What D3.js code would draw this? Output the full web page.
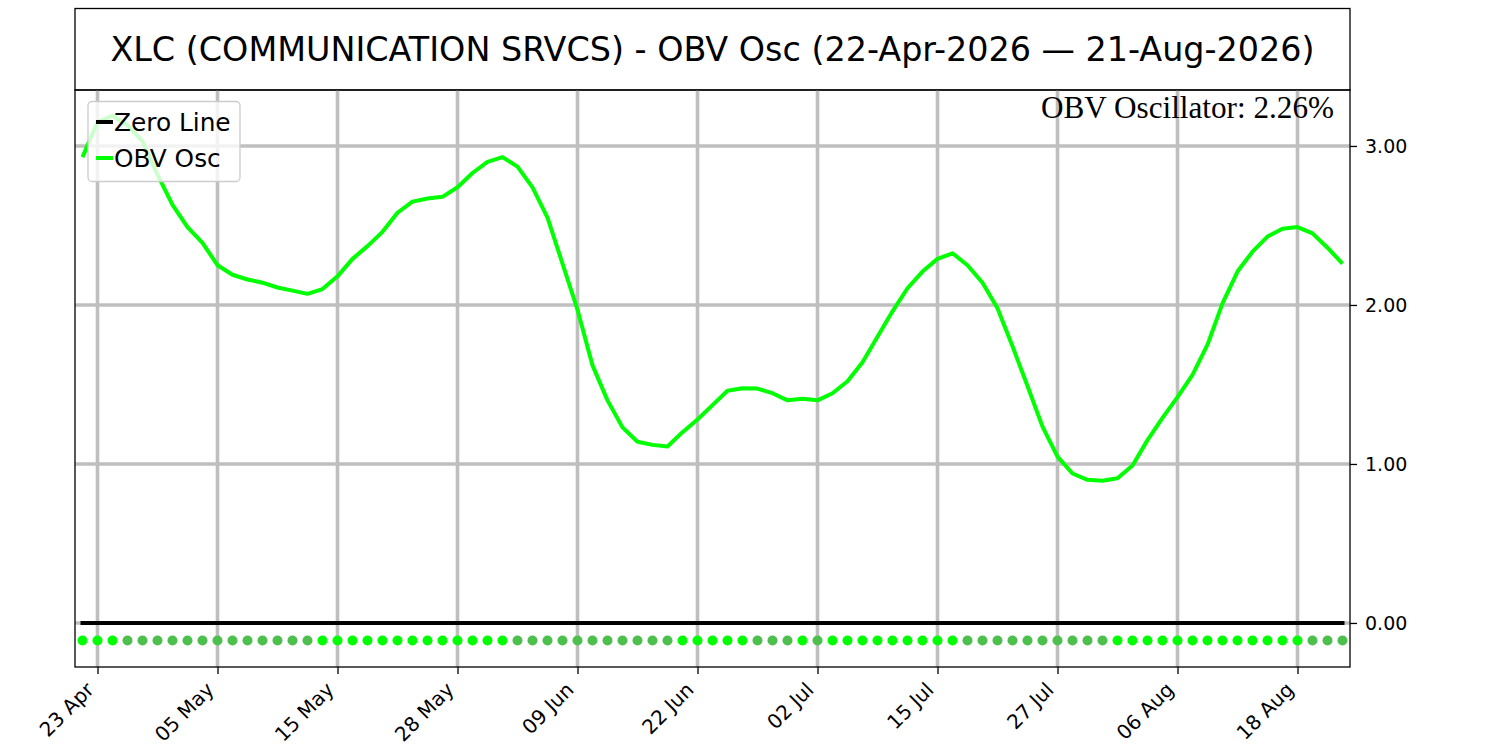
<!DOCTYPE html>
<html>
<head>
<meta charset="utf-8">
<script src="https://cdn.jsdelivr.net/npm/d3@7/dist/d3.min.js"></script>
<style>
  html, body { margin: 0; padding: 0; background: #fff; }
  svg { display: block; font-family: "DejaVu Sans", sans-serif; }
</style>
</head>
<body>
<svg id="chart" width="1500" height="750"></svg>
<script>
// ---- data ----
const titleText = "XLC (COMMUNICATION SRVCS) - OBV Osc (22-Apr-2026 \u2014 21-Aug-2026)";
const lastLabel = "OBV Oscillator: 2.26%";
const obvOsc = [
  2.93, 3.15, 3.19, 3.13, 3.03, 2.82, 2.63, 2.49, 2.39, 2.25,
  2.19, 2.16, 2.14, 2.11, 2.09, 2.07, 2.10, 2.18, 2.29, 2.37,
  2.46, 2.58, 2.65, 2.67, 2.68, 2.74, 2.83, 2.90, 2.93, 2.87,
  2.74, 2.55, 2.26, 1.97, 1.62, 1.40, 1.23, 1.14, 1.12, 1.11,
  1.20, 1.28, 1.37, 1.46, 1.476, 1.474, 1.445, 1.40, 1.41, 1.40,
  1.445, 1.52, 1.64, 1.80, 1.96, 2.105, 2.21, 2.29, 2.325, 2.25,
  2.14, 1.98, 1.74, 1.49, 1.235, 1.046, 0.94, 0.90, 0.895, 0.91,
  0.99, 1.15, 1.29, 1.42, 1.56, 1.75, 2.01, 2.21, 2.335, 2.43,
  2.48, 2.49, 2.45, 2.36, 2.26
];
const tickIndices = [1, 9, 17, 25, 33, 41, 49, 57, 65, 73, 81];
const tickLabels = ["23 Apr", "05 May", "15 May", "28 May", "09 Jun", "22 Jun", "02 Jul", "15 Jul", "27 Jul", "06 Aug", "18 Aug"];
const yTicks = [0, 1, 2, 3];
const dotLevel = -0.11;
const legendItems = ["Zero Line", "OBV Osc"];

// ---- layout ----
const svg = d3.select("#chart");
const L = 75, R = 1350, T = 90, B = 667;
const n = obvOsc.length;
const x = d3.scaleLinear().domain([-0.5, n - 0.5]).range([L, R]);
const y = d3.scaleLinear().domain([-0.277, 3.352]).range([B, T]);

const grid = "#bfbfbf";
const sans = "DejaVu Sans, sans-serif";

// title box
svg.append("rect").attr("x", L).attr("y", 8.5).attr("width", R - L).attr("height", T - 8.5)
  .attr("fill", "none").attr("stroke", "#000").attr("stroke-width", 1.3);
svg.append("text").attr("x", (L + R) / 2).attr("y", 61).attr("text-anchor", "middle")
  .attr("font-family", sans).attr("font-size", 33.4).attr("fill", "#000").text(titleText);

const plot = svg.append("g");

// grid lines
plot.selectAll(".vg").data(tickIndices).enter().append("line")
  .attr("x1", d => x(d)).attr("x2", d => x(d)).attr("y1", T).attr("y2", B)
  .attr("stroke", grid).attr("stroke-width", 3.6);
plot.selectAll(".hg").data(yTicks).enter().append("line")
  .attr("x1", L).attr("x2", R).attr("y1", d => y(d)).attr("y2", d => y(d))
  .attr("stroke", grid).attr("stroke-width", 3.6);

// zero line
plot.append("line").attr("x1", x(0) - 2).attr("x2", x(n - 1) + 2)
  .attr("y1", y(0)).attr("y2", y(0)).attr("stroke", "#000").attr("stroke-width", 4);

// dots
plot.selectAll(".dot").data(obvOsc).enter().append("circle")
  .attr("cx", (d, i) => x(i)).attr("cy", y(dotLevel)).attr("r", 5)
  .attr("fill", (d, i) => (i === 0 || d >= obvOsc[i - 1]) ? "#00ff00" : "#4cbf4c");

// OBV line
const line = d3.line().x((d, i) => x(i)).y(d => y(d));
plot.append("path").datum(obvOsc).attr("d", line)
  .attr("fill", "none").attr("stroke", "#00ff00").attr("stroke-width", 4)
  .attr("stroke-linejoin", "round");

// axes frame
svg.append("rect").attr("x", L).attr("y", T).attr("width", R - L).attr("height", B - T)
  .attr("fill", "none").attr("stroke", "#000").attr("stroke-width", 1.3);

// right y axis
const yAxis = svg.append("g").attr("transform", `translate(${R},0)`)
  .call(d3.axisRight(y).tickValues(yTicks).tickFormat(d3.format(".2f")).tickSize(7).tickPadding(8));
yAxis.select(".domain").remove();
yAxis.selectAll("text").attr("font-size", 19).attr("font-family", sans).attr("fill", "#000");
yAxis.selectAll("line").attr("stroke", "#000").attr("stroke-width", 1.3);

// bottom x axis
const xAxis = svg.append("g").attr("transform", `translate(0,${B})`)
  .call(d3.axisBottom(x).tickValues(tickIndices).tickFormat((d, i) => tickLabels[i]).tickSize(7));
xAxis.select(".domain").remove();
xAxis.selectAll("line").attr("stroke", "#000").attr("stroke-width", 1.3);
xAxis.selectAll("text")
  .attr("font-size", 20).attr("font-family", sans).attr("fill", "#000")
  .attr("text-anchor", "end").attr("dy", null).attr("y", 0)
  .attr("transform", "translate(-3,24) rotate(-45)");

// last value label
svg.append("text").attr("x", 1334).attr("y", 118).attr("text-anchor", "end")
  .attr("font-family", "Liberation Serif, Times New Roman, serif").attr("font-size", 31.2)
  .attr("fill", "#000").text(lastLabel);

// legend
const lg = svg.append("g");
lg.append("rect").attr("x", 88).attr("y", 101.5).attr("width", 152).attr("height", 80)
  .attr("rx", 4).attr("fill", "#fff").attr("fill-opacity", 0.8)
  .attr("stroke", "#cccccc").attr("stroke-width", 1.3);
const legendColors = ["#000", "#00ff00"];
legendItems.forEach((t, i) => {
  const cy = 122 + i * 36;
  lg.append("line").attr("x1", 96).attr("x2", 113).attr("y1", cy).attr("y2", cy)
    .attr("stroke", legendColors[i]).attr("stroke-width", 4);
  lg.append("text").attr("x", 114).attr("y", cy + 9).attr("font-size", 24.8)
    .attr("font-family", sans).attr("fill", "#000").text(t);
});
</script>
</body>
</html>
